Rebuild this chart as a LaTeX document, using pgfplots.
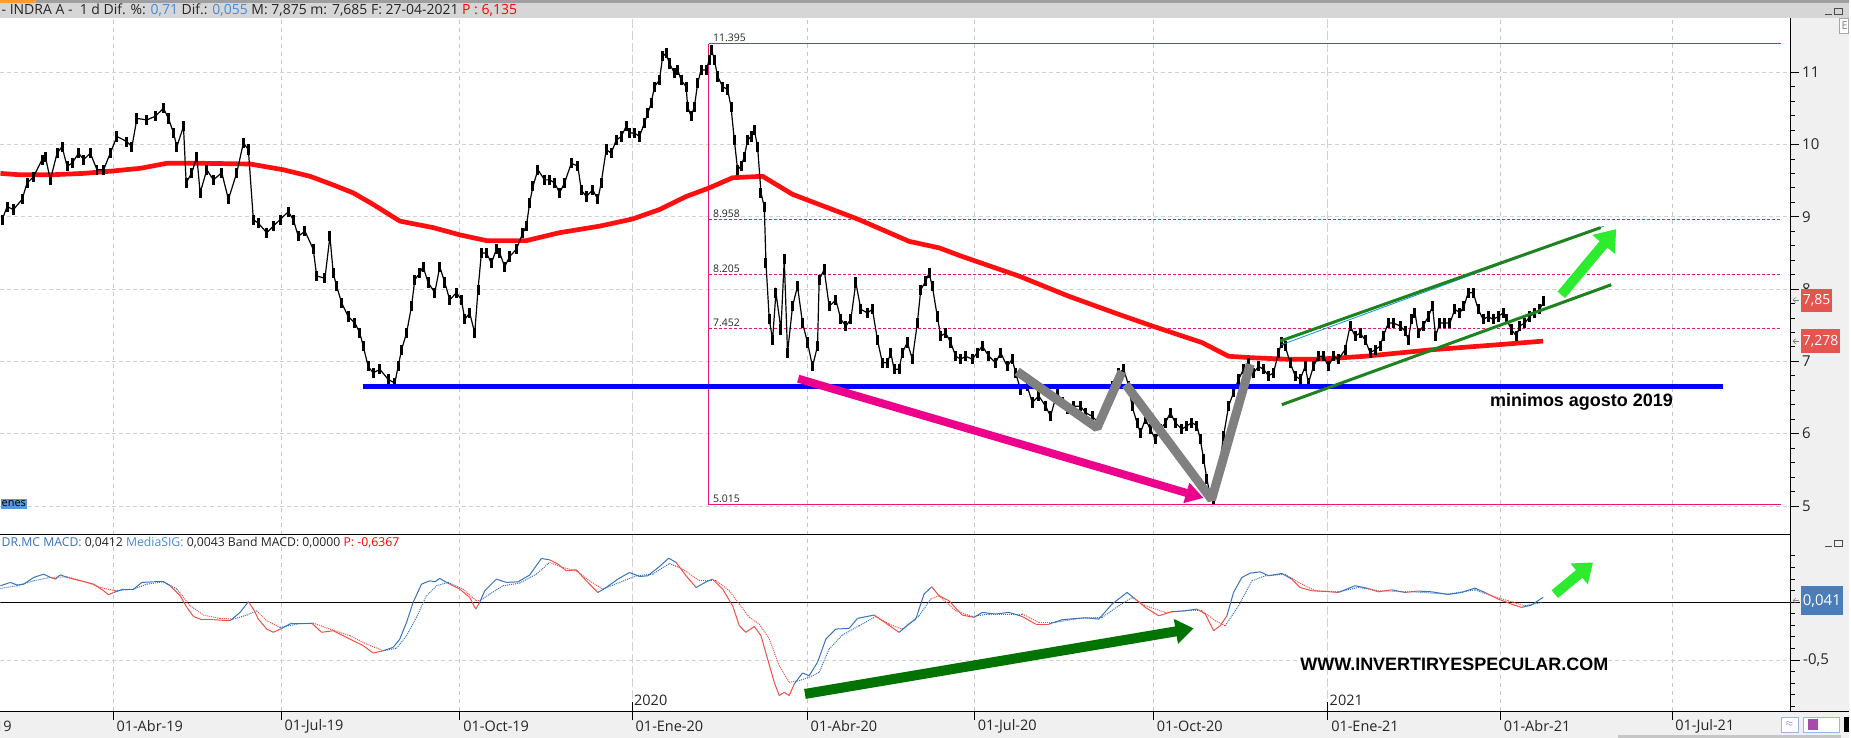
\documentclass[border=0pt]{standalone}
\usepackage{fontspec}
\setmainfont{Open Sans}
\newfontfamily\arialfont{Liberation Sans}
\usepackage{pgfplots}
\pgfplotsset{compat=1.18}
\usepackage{pgfplotstable}
\usetikzlibrary{arrows.meta}

\definecolor{hdrblue}{RGB}{70,140,215}
\definecolor{macdblue}{RGB}{55,115,190}
\definecolor{macdred}{RGB}{240,80,70}
\definecolor{fib}{RGB}{235,20,120}
\definecolor{mared}{RGB}{255,15,15}
\definecolor{chgreen}{RGB}{30,130,30}
\definecolor{brgreen}{RGB}{45,235,45}
\definecolor{dkgreen}{RGB}{0,115,0}
\definecolor{zig}{RGB}{128,128,128}
\definecolor{panel}{RGB}{240,240,240}
\definecolor{hdr}{RGB}{214,214,214}
\definecolor{lblred}{RGB}{228,85,80}
\definecolor{lblblue}{RGB}{75,125,185}

% x = position along the time axis (quarter ticks at 112.7, 281, 460, ...)
\pgfplotstableread{
t p
1.7 8.96
6.7 9.14
13 9.10
21.7 9.24
26.7 9.47
33 9.55
41.7 9.79
45 9.83
50 9.51
56.7 9.88
61.7 9.97
66.7 9.70
71.7 9.74
78.3 9.88
83.3 9.79
90 9.88
96.7 9.65
103.3 9.65
110 9.88
116.7 10.11
126.7 10.04
131.7 9.97
136.7 10.36
146.7 10.34
155 10.39
163.3 10.50
168.3 10.36
173.3 10.16
176.7 9.97
183.3 10.25
186 9.47
191.7 9.61
196.7 9.83
200 9.33
206.7 9.65
213.3 9.51
221.7 9.61
228.3 9.24
236.7 9.61
243.3 10.02
248.3 9.93
253.3 8.96
258.3 8.91
266.7 8.78
273.3 8.87
280 8.96
288.3 9.07
293.3 8.96
298.3 8.73
305 8.80
313.3 8.55
316.7 8.18
325 8.15
330 8.73
333.3 8.22
336.7 8.04
341.7 7.81
348.3 7.62
355 7.53
360 7.39
363.3 7.21
368.3 6.93
373.3 6.84
380 6.89
388.3 6.75
395 6.70
398.3 6.93
401.7 7.16
406.7 7.39
411.7 7.76
415 8.13
420 8.22
423.3 8.31
428.3 8.09
435 7.95
440 8.31
445 8.09
450 7.85
456.7 7.95
461.7 7.85
465 7.58
470 7.67
475 7.39
478.3 7.99
481.7 8.50
486.7 8.50
491.7 8.36
496.7 8.55
500 8.50
505 8.31
510 8.45
516.7 8.55
523.3 8.78
526.7 8.87
530 9.19
533.3 9.42
538.3 9.65
545 9.51
550 9.51
555 9.47
560 9.33
565 9.47
571.7 9.74
578.3 9.70
581.7 9.37
586.7 9.28
593.3 9.37
598.3 9.24
601.7 9.47
606.7 9.93
611.7 9.88
616.7 10.06
621.7 10.11
626.7 10.25
630 10.16
635 10.16
640 10.11
645 10.30
648.3 10.43
651.7 10.57
655 10.80
660 10.89
663.3 11.22
666.7 11.26
670 11.12
675 10.99
678.3 11.03
681.7 10.89
686.7 10.80
688.3 10.52
691.7 10.39
695 10.52
698.3 10.85
701.7 11.03
706.7 11.03
710 11.17
712.3 11.31
715 11.17
718.3 10.94
723.3 10.80
728.3 10.76
731.7 10.52
735 10.06
738.3 9.65
741.7 9.70
745 9.83
748.3 10.06
751.7 10.11
755 10.20
758.3 9.97
761.7 9.33
765 9.14
766.7 8.36
770 7.58
773.3 7.30
776.7 7.95
781.7 7.44
785 8.41
788.3 7.12
793.3 7.76
798.3 8.04
803.3 7.53
808.3 7.26
813.3 6.93
818.3 7.21
820 8.13
825 8.27
830 7.76
836.7 7.85
841.7 7.58
846.7 7.49
851.7 7.58
856.7 8.09
861.7 7.72
868.3 7.67
873.3 7.72
878.3 7.30
883.3 6.98
888.3 6.98
891.7 7.12
895 6.89
900 6.89
903.3 7.12
908.3 7.26
913.3 7.03
918.3 7.53
921.7 7.99
926.7 8.11
930 8.22
933.3 8.04
938.3 7.62
941.7 7.35
946.7 7.39
951.7 7.26
956.7 7.07
961.7 7.03
966.7 7.07
973.3 7.03
978.3 7.12
983.3 7.21
990 7.07
996.7 6.98
1001.7 7.12
1008.3 6.93
1013.3 7.03
1016.7 6.84
1021.7 6.61
1028.3 6.66
1033.3 6.43
1040 6.52
1046.7 6.38
1051.7 6.24
1058.3 6.57
1063.3 6.43
1068.3 6.34
1075 6.38
1081.7 6.38
1086.7 6.29
1093.3 6.24
1100 6.15
1106.7 6.38
1113.3 6.66
1120 6.84
1125 6.89
1130 6.66
1133.3 6.38
1138.3 6.15
1141.7 6.01
1146.7 6.20
1151.7 6.06
1156.7 5.92
1161.7 6.06
1166.7 6.15
1171.7 6.29
1176.7 6.15
1183.3 6.06
1188.3 6.11
1193.3 6.15
1198.3 6.11
1201.7 5.92
1205 5.65
1208.3 5.37
1211.7 5.14
1215 5.09
1220 5.46
1225 5.97
1230 6.38
1235 6.57
1240 6.75
1245 6.89
1250 6.98
1255 6.84
1260 6.93
1265 6.89
1270 6.80
1275 6.84
1280 7.12
1283.3 7.26
1286.7 7.21
1291.7 6.98
1296.7 6.80
1301.7 6.75
1306.7 6.93
1310 6.70
1315 6.93
1320 7.07
1325 7.07
1330 6.93
1335 7.07
1340 7.03
1346.7 7.16
1351.7 7.49
1356.7 7.35
1361.7 7.39
1366.7 7.30
1371.7 7.12
1376.7 7.16
1381.7 7.21
1385 7.35
1390 7.53
1395 7.53
1401.7 7.49
1406.7 7.42
1410 7.30
1413.3 7.58
1416.7 7.67
1420 7.39
1425 7.49
1430 7.62
1434.3 7.76
1437.3 7.35
1441.7 7.53
1446.7 7.53
1451.7 7.53
1456.7 7.72
1461.7 7.67
1465.7 7.76
1470 7.95
1475 7.95
1480 7.72
1485 7.58
1490 7.62
1495 7.58
1500 7.62
1505 7.67
1508.3 7.58
1513.3 7.44
1518.3 7.35
1521.7 7.49
1526.7 7.53
1531.7 7.62
1536.7 7.67
1541.7 7.72
1545.7 7.83
}\price

\pgfplotstableread{
t v
0 9.60
20 9.58
50 9.58
83 9.60
110 9.63
140 9.67
166.7 9.74
200 9.74
250 9.73
283.3 9.65
310 9.56
333.3 9.44
353.3 9.33
373.3 9.17
400 8.94
433.3 8.85
460 8.75
486.7 8.67
526.7 8.67
560 8.78
600 8.87
633.3 8.97
660 9.10
686.7 9.28
710 9.40
733.3 9.54
763.3 9.56
793.3 9.31
820 9.17
860 8.96
886.7 8.80
910 8.66
940 8.57
963.3 8.45
1020 8.18
1070 7.90
1120 7.65
1153.3 7.49
1203.3 7.26
1230 7.07
1253.3 7.05
1286.7 7.03
1320 7.03
1366.7 7.07
1433.3 7.16
1500 7.23
1545 7.28
}\ma

% c = 1 where MACD is above its signal (drawn blue), 0 below (drawn red)
\pgfplotstableread{
t v c
0 0.141 1
10 0.170 1
16.7 0.147 1
23.3 0.155 1
33.3 0.213 1
43.3 0.241 1
50 0.213 0
55 0.198 1
60 0.236 1
66.7 0.213 0
80 0.184 0
93.3 0.155 0
103.3 0.098 0
108.3 0.063 0
113.3 0.083 1
123.3 0.112 1
133.3 0.112 1
141.7 0.170 1
153.3 0.175 1
163.3 0.175 1
170 0.141 0
180 0.055 0
186.7 -0.046 0
193.3 -0.124 0
201.7 -0.152 0
213.3 -0.152 0
230 -0.161 1
240 -0.089 1
248.3 0.003 0
253.3 -0.060 0
258.3 -0.147 0
266.7 -0.233 0
273.3 -0.261 0
281.7 -0.227 1
291.7 -0.181 1
311.7 -0.181 0
321.7 -0.261 0
333.3 -0.247 0
350 -0.319 0
363.3 -0.376 0
373.3 -0.440 0
383.3 -0.420 1
393.3 -0.391 1
400 -0.319 1
406.7 -0.175 1
413.3 -0.003 1
421.7 0.155 1
430 0.184 1
435 0.175 1
440 0.204 1
450 0.155 0
460 0.112 0
470 0.040 0
476 -0.060 0
480 -0.003 1
485 0.098 1
496.7 0.198 1
506.7 0.170 1
518.3 0.175 1
530 0.233 1
541.7 0.376 1
550 0.365 0
558.3 0.328 0
566.7 0.270 0
576.7 0.279 0
586.7 0.184 0
598.3 0.083 1
606.7 0.126 1
618.3 0.198 1
630 0.256 1
640 0.221 1
648.3 0.227 1
660 0.307 1
669.3 0.379 1
676.7 0.342 0
686.7 0.227 0
696.7 0.126 1
706.7 0.175 1
713.3 0.198 0
723.3 0.112 0
733.3 -0.032 0
740 -0.204 0
746.7 -0.261 0
755 -0.210 0
761.7 -0.290 0
768.3 -0.491 0
775 -0.693 0
780 -0.807 0
785 -0.779 0
790 -0.807 0
795 -0.707 1
803.3 -0.612 1
810 -0.635 1
818.3 -0.520 1
826.7 -0.319 1
836.7 -0.233 1
850 -0.227 1
858.3 -0.141 1
875 -0.112 0
883.3 -0.161 0
900 -0.261 1
910 -0.190 1
916.7 -0.147 1
925 0.069 1
932.7 0.132 0
940 0.055 0
950 0.011 0
963.3 -0.112 0
975 -0.132 1
983.3 -0.089 1
996.7 -0.103 1
1010 -0.089 1
1023.3 -0.124 0
1036.7 -0.190 0
1050 -0.190 1
1063.3 -0.152 1
1086.7 -0.135 1
1100 -0.147 1
1113.3 -0.017 1
1128.3 0.083 1
1136.7 0.026 0
1146.7 -0.046 0
1160 -0.118 0
1173.3 -0.083 1
1186.7 -0.075 1
1198.3 -0.060 0
1206.7 -0.103 0
1215 -0.247 0
1221.7 -0.204 0
1228.3 -0.118 1
1235 0.083 1
1243.3 0.213 1
1251.7 0.250 1
1261.7 0.261 1
1270 0.227 1
1283.3 0.247 1
1293.3 0.198 0
1301.7 0.126 0
1313.3 0.098 0
1326.7 0.092 0
1340 0.083 1
1356.7 0.141 1
1370 0.118 0
1380 0.089 0
1393.3 0.106 1
1406.7 0.083 0
1420 0.095 1
1433.3 0.089 1
1450 0.066 1
1463.3 0.083 1
1476.7 0.121 1
1486.7 0.083 0
1500 0.026 0
1513.3 -0.017 0
1523.3 -0.046 1
1533.3 -0.026 1
1545 0.041 1
}\macd

\pgfplotstableread{
t v c
0 0.118 1
16.7 0.141 1
33.3 0.184 1
50 0.213 0
66.7 0.218 0
86.7 0.170 0
100 0.126 0
115 0.098 1
133.3 0.112 1
146.7 0.155 1
163.3 0.175 1
176.7 0.112 0
190 -0.032 0
203.3 -0.112 0
220 -0.141 0
233.3 -0.147 1
246.7 -0.112 1
256.7 -0.075 0
266.7 -0.161 0
280 -0.218 1
296.7 -0.190 1
313.3 -0.181 0
330 -0.233 0
350 -0.290 0
366.7 -0.362 0
383.3 -0.420 1
396.7 -0.399 1
406.7 -0.290 1
416.7 -0.132 1
426.7 0.055 1
436.7 0.141 1
448.3 0.170 1
463.3 0.112 0
476.7 0.011 0
480 0.011 1
490 0.069 1
503.3 0.141 1
520 0.164 1
536.7 0.241 1
550 0.342 0
563.3 0.299 0
576.7 0.270 0
590 0.184 0
603.3 0.112 1
620 0.170 1
636.7 0.227 1
653.3 0.241 1
670 0.333 1
683.3 0.284 0
700 0.184 1
716.7 0.184 0
730 0.098 0
740 -0.017 0
750 -0.132 0
760 -0.190 0
770 -0.319 0
780 -0.549 0
790 -0.693 0
800 -0.678 1
810 -0.649 1
820 -0.606 1
830 -0.405 1
843.3 -0.284 1
860 -0.204 1
876.7 -0.124 0
890 -0.190 0
903.3 -0.233 1
920 -0.118 1
931.7 0.026 0
940 0.055 0
956.7 -0.075 0
973.3 -0.124 1
990 -0.103 1
1023.3 -0.103 0
1040 -0.175 0
1056.7 -0.175 1
1080 -0.141 1
1103.3 -0.132 1
1120 -0.032 1
1133.3 0.040 0
1146.7 -0.032 0
1166.7 -0.089 0
1186.7 -0.075 1
1203.3 -0.075 0
1216.7 -0.161 0
1226.7 -0.204 1
1240 -0.032 1
1253.3 0.184 1
1266.7 0.227 1
1286.7 0.241 0
1300 0.170 0
1316.7 0.098 0
1340 0.089 1
1360 0.126 1
1380 0.098 0
1406.7 0.089 0
1413.3 0.089 1
1450 0.069 1
1476.7 0.106 1
1493.3 0.055 0
1510 0.011 0
1526.7 -0.032 1
1543.3 -0.003 1
}\sig

\pgfplotsset{
  panel/.style={
    anchor=south west, scale only axis, width=1793pt,
    xmin=0, xmax=1793,
    axis y line*=right,
    axis line style={line width=0.8pt},
    tick align=outside, major tick length=8pt, minor tick length=4pt,
    tick style={black, line width=0.8pt},
    yticklabel style={font=\fontsize{15}{15}\selectfont, black!85},
    ymajorgrids,
    major grid style={gray!35, dash pattern=on 4pt off 3pt, line width=0.7pt},
  },
  macdline/.style={mesh, shader=flat corner, point meta=explicit,
    point meta min=0, point meta max=1,
    colormap={rb}{color=(macdred) color=(macdblue)}, line width=1pt},
}

\begin{document}
\begin{tikzpicture}[x=1pt,y=1pt]
\fill[white] (0,0) rectangle (1851,739);
\fill[panel] (1793,0) rectangle (1851,721);
\fill[panel] (0,0) rectangle (1851,26.7);
\fill[hdr] (0,721) rectangle (1851,736);
\fill[gray!75] (0,736) rectangle (1851,739);
\fill[orange!80] (0,736) rectangle (36,739);
\fill[gray!45] (1620,0) rectangle (1843,3);
\coordinate (mainSW) at (0,204);
\coordinate (macdSW) at (0,26.7);

% quarter grid lines through both panels
\foreach \x in {112.7,281,460,808,975.3,1154.7,1502.3,1674}
  \draw[gray!45, dash pattern=on 4pt off 4pt, line width=0.7pt] (\x,26.7) -- (\x,721);
\foreach \x in {632.7,1329.3}
  \draw[gray!35, dash pattern=on 9pt off 3pt, line width=0.9pt] (\x,26.7) -- (\x,721);

% ---------- price panel ----------
\begin{axis}[panel, at={(mainSW)}, height=517pt,
  ymin=4.609, ymax=11.75,
  axis x line=none,
  ytick={5,6,7,8,9,10,11}, yticklabels={5,6,7,8,9,10,11},
  minor y tick num=4,
]
\addplot[fib, line width=1.1pt] coordinates {(709.3,5.015) (709.3,11.395)};
\addplot[fib, line width=1.1pt] coordinates {(709.3,11.395) (1783,11.395)};
\addplot[fib, line width=1.1pt] coordinates {(709.3,5.015) (1783,5.015)};
\addplot[fib, line width=1.1pt, dash pattern=on 3pt off 2pt] coordinates {(709.3,8.958) (1783,8.958)};
\addplot[fib, line width=1.1pt, dash pattern=on 3pt off 2pt] coordinates {(709.3,8.205) (1783,8.205)};
\addplot[fib, line width=1.1pt, dash pattern=on 3pt off 2pt] coordinates {(709.3,7.452) (1783,7.452)};

\addplot[mared, line width=4.7pt] table[x=t, y=v] {\ma};

\addplot[black, line width=1.2pt,
  error bars/.cd, y dir=both, y fixed=0.07, error mark=none,
  error bar style={line width=3pt}] table[x=t, y=p] {\price};

\addplot[blue, line width=5.3pt] coordinates {(362.7,6.65) (1725,6.65)};

\addplot[cyan!80!blue, line width=0.8pt] coordinates {(1283,7.23) (1606,8.87)};
\addplot[chgreen, line width=3pt] coordinates {(1281.7,7.28) (1602.7,8.85)};
\addplot[chgreen, line width=3pt] coordinates {(1283.3,6.40) (1613.3,8.06)};

\addplot[zig, line width=9pt, line join=bevel] coordinates {(1018.3,6.86) (1098.3,6.08) (1123.3,6.86)};
\addplot[zig, line width=9pt, line join=bevel] coordinates {(1127,6.68) (1213,5.09) (1251.7,6.96)};

\addplot[magenta, line width=8pt, -{Triangle[length=18pt,width=20pt]}] coordinates {(799,6.76) (1205,5.11)};
\addplot[brgreen, line width=10pt, -{Triangle[length=20pt,width=28pt]}] coordinates {(1563.3,7.92) (1618.3,8.83)};

\node[anchor=south west, inner sep=1.5pt, font=\fontsize{10.5}{11}\selectfont, black!85] at (axis cs:712,11.395) {11.395};
\node[anchor=south west, inner sep=1.5pt, font=\fontsize{10.5}{11}\selectfont, black!85] at (axis cs:712,8.958) {8.958};
\node[anchor=south west, inner sep=1.5pt, font=\fontsize{10.5}{11}\selectfont, black!85] at (axis cs:712,8.205) {8.205};
\node[anchor=south west, inner sep=1.5pt, font=\fontsize{10.5}{11}\selectfont, black!85] at (axis cs:712,7.452) {7.452};
\node[anchor=south west, inner sep=1.5pt, font=\fontsize{10.5}{11}\selectfont, black!85] at (axis cs:712,5.015) {5.015};
\node[anchor=west, inner sep=0pt, font=\arialfont\bfseries\fontsize{18}{18}\selectfont] at (axis cs:1491.7,6.437) {minimos agosto 2019};
\end{axis}

% ---------- MACD panel ----------
\begin{axis}[panel, at={(macdSW)}, height=162.3pt,
  ymin=-0.942, ymax=0.457,
  axis x line*=bottom,
  major tick length=9pt,
  xtick={112.7,281,460,632.7,808,975.3,1154.7,1329.3,1502.3,1674},
  xticklabels={01-Abr-19,01-Jul-19,01-Oct-19,01-Ene-20,01-Abr-20,01-Jul-20,01-Oct-20,01-Ene-21,01-Abr-21,01-Jul-21},
  xticklabel style={anchor=west, font=\fontsize{14.5}{15}\selectfont, black!85, yshift=-6pt},
  ytick={-0.5}, yticklabels={-0{,}5},
  extra y ticks={0}, extra y tick labels={},
  minor ytick={-0.9,-0.8,-0.7,-0.6,-0.4,-0.3,-0.2,-0.1,0.1,0.2,0.3,0.4},
]
\addplot[black, line width=0.8pt] coordinates {(0,0) (1793,0)};
\addplot[macdline, densely dotted] table[x=t, y=v, meta=c] {\sig};
\addplot[macdline] table[x=t, y=v, meta=c] {\macd};

\addplot[dkgreen, line width=10pt, -{Triangle[length=18pt,width=24pt]}] coordinates {(805.7,-0.793) (1195,-0.227)};
\addplot[brgreen, line width=10pt, -{Triangle[length=18pt,width=26pt]}] coordinates {(1556.7,0.069) (1595,0.342)};

\node[anchor=west, inner sep=0pt, font=\arialfont\bfseries\fontsize{18}{18}\selectfont] at (axis cs:1301.7,-0.534) {WWW.INVERTIRYESPECULAR.COM};
\end{axis}

% panel frame lines
\draw[black, line width=0.9pt] (0,204) -- (1793,204);
\draw[black, line width=0.8pt] (0,26.7) -- (1851,26.7);
\draw[black, line width=0.8pt] (1793,204) -- (1793,189);
\draw[black, line width=0.8pt] (632.7,26.7) -- (632.7,36);
\draw[black, line width=0.8pt] (1329.3,26.7) -- (1329.3,36);
\node[anchor=west, inner sep=0pt, font=\fontsize{14.5}{15}\selectfont, black!85] at (634.5,37.8) {2020};
\node[anchor=west, inner sep=0pt, font=\fontsize{14.5}{15}\selectfont, black!85] at (1331.1,37.8) {2021};
\node[overlay, anchor=west, inner sep=0pt, font=\fontsize{14.5}{15}\selectfont, black!85] at (-56.5,11.7) {01-Ene-19};

% headers
\node[anchor=west, inner sep=0pt, font=\fontsize{14}{15}\selectfont, black!85] at (1,728.5)
  {- INDRA A -\ \ 1 d Dif. \%: \textcolor{hdrblue}{0,71} Dif.: \textcolor{hdrblue}{0,055} M: 7,875 m: 7,685 F: 27-04-2021 \textcolor{red}{P : 6,135}};
\node[anchor=west, inner sep=0pt, font=\fontsize{12.25}{13}\selectfont, black!85] at (1,196)
  {\textcolor{macdblue}{DR.MC MACD:} 0,0412 \textcolor{hdrblue}{MediaSIG:} 0,0043 Band MACD: 0,0000 \textcolor{red}{P: -0,6367}};
\node[anchor=west, fill=hdrblue!90, inner xsep=1pt, inner ysep=2pt, font=\fontsize{11}{11}\selectfont] at (0,234.5) {enes};

% price tags on the right scale
\node[anchor=west, fill=lblred, text=white, minimum height=23pt, inner xsep=2pt, font=\fontsize{14}{14}\selectfont] at (1803,438.1) {7,85};
\node[anchor=west, fill=lblred, text=white, minimum height=24pt, inner xsep=2pt, font=\fontsize{14}{14}\selectfont] at (1803,397.2) {7,278};
\node[anchor=west, fill=lblblue, text=white, minimum height=29pt, inner xsep=2pt, font=\fontsize{15}{15}\selectfont] at (1803,137.5) {0,041};
\draw[gray, line width=0.6pt, -{Straight Barb[length=2.5pt,width=5pt]}] (1801,438.6) -- (1795,438.6);
\draw[gray, line width=0.6pt, -{Straight Barb[length=2.5pt,width=5pt]}] (1801,397.2) -- (1795,397.2);
\draw[gray, line width=0.6pt, -{Straight Barb[length=2.5pt,width=5pt]}] (1801,137.5) -- (1795,137.5);

% window furniture
\draw[gray!70, fill=white] (1842,706) rectangle (1850.5,721);
\node[gray, font=\fontsize{11}{11}\selectfont] at (1847,713.5) {E};
\draw[black!70, line width=0.8pt] (1827,725) -- (1834,725);
\draw[black!70, line width=0.8pt] (1837,724.5) rectangle (1845,731);
\draw[black!70, line width=0.8pt] (1827,192) -- (1834,192);
\draw[black!70, line width=0.8pt] (1837,191.5) rectangle (1845,198);
\draw[cyan!50!blue!40, fill=white] (1783,6) rectangle (1800,21);
\node[blue!60, font=\fontsize{10}{10}\selectfont] at (1791.5,13.5) {$\approx$};
\draw[cyan!50!blue!40, fill=white] (1805,6) rectangle (1842,21);
\fill[violet!70] (1810,8) rectangle (1820,19);
\fill[black] (1846,6) rectangle (1851,21);
\end{tikzpicture}
\end{document}
